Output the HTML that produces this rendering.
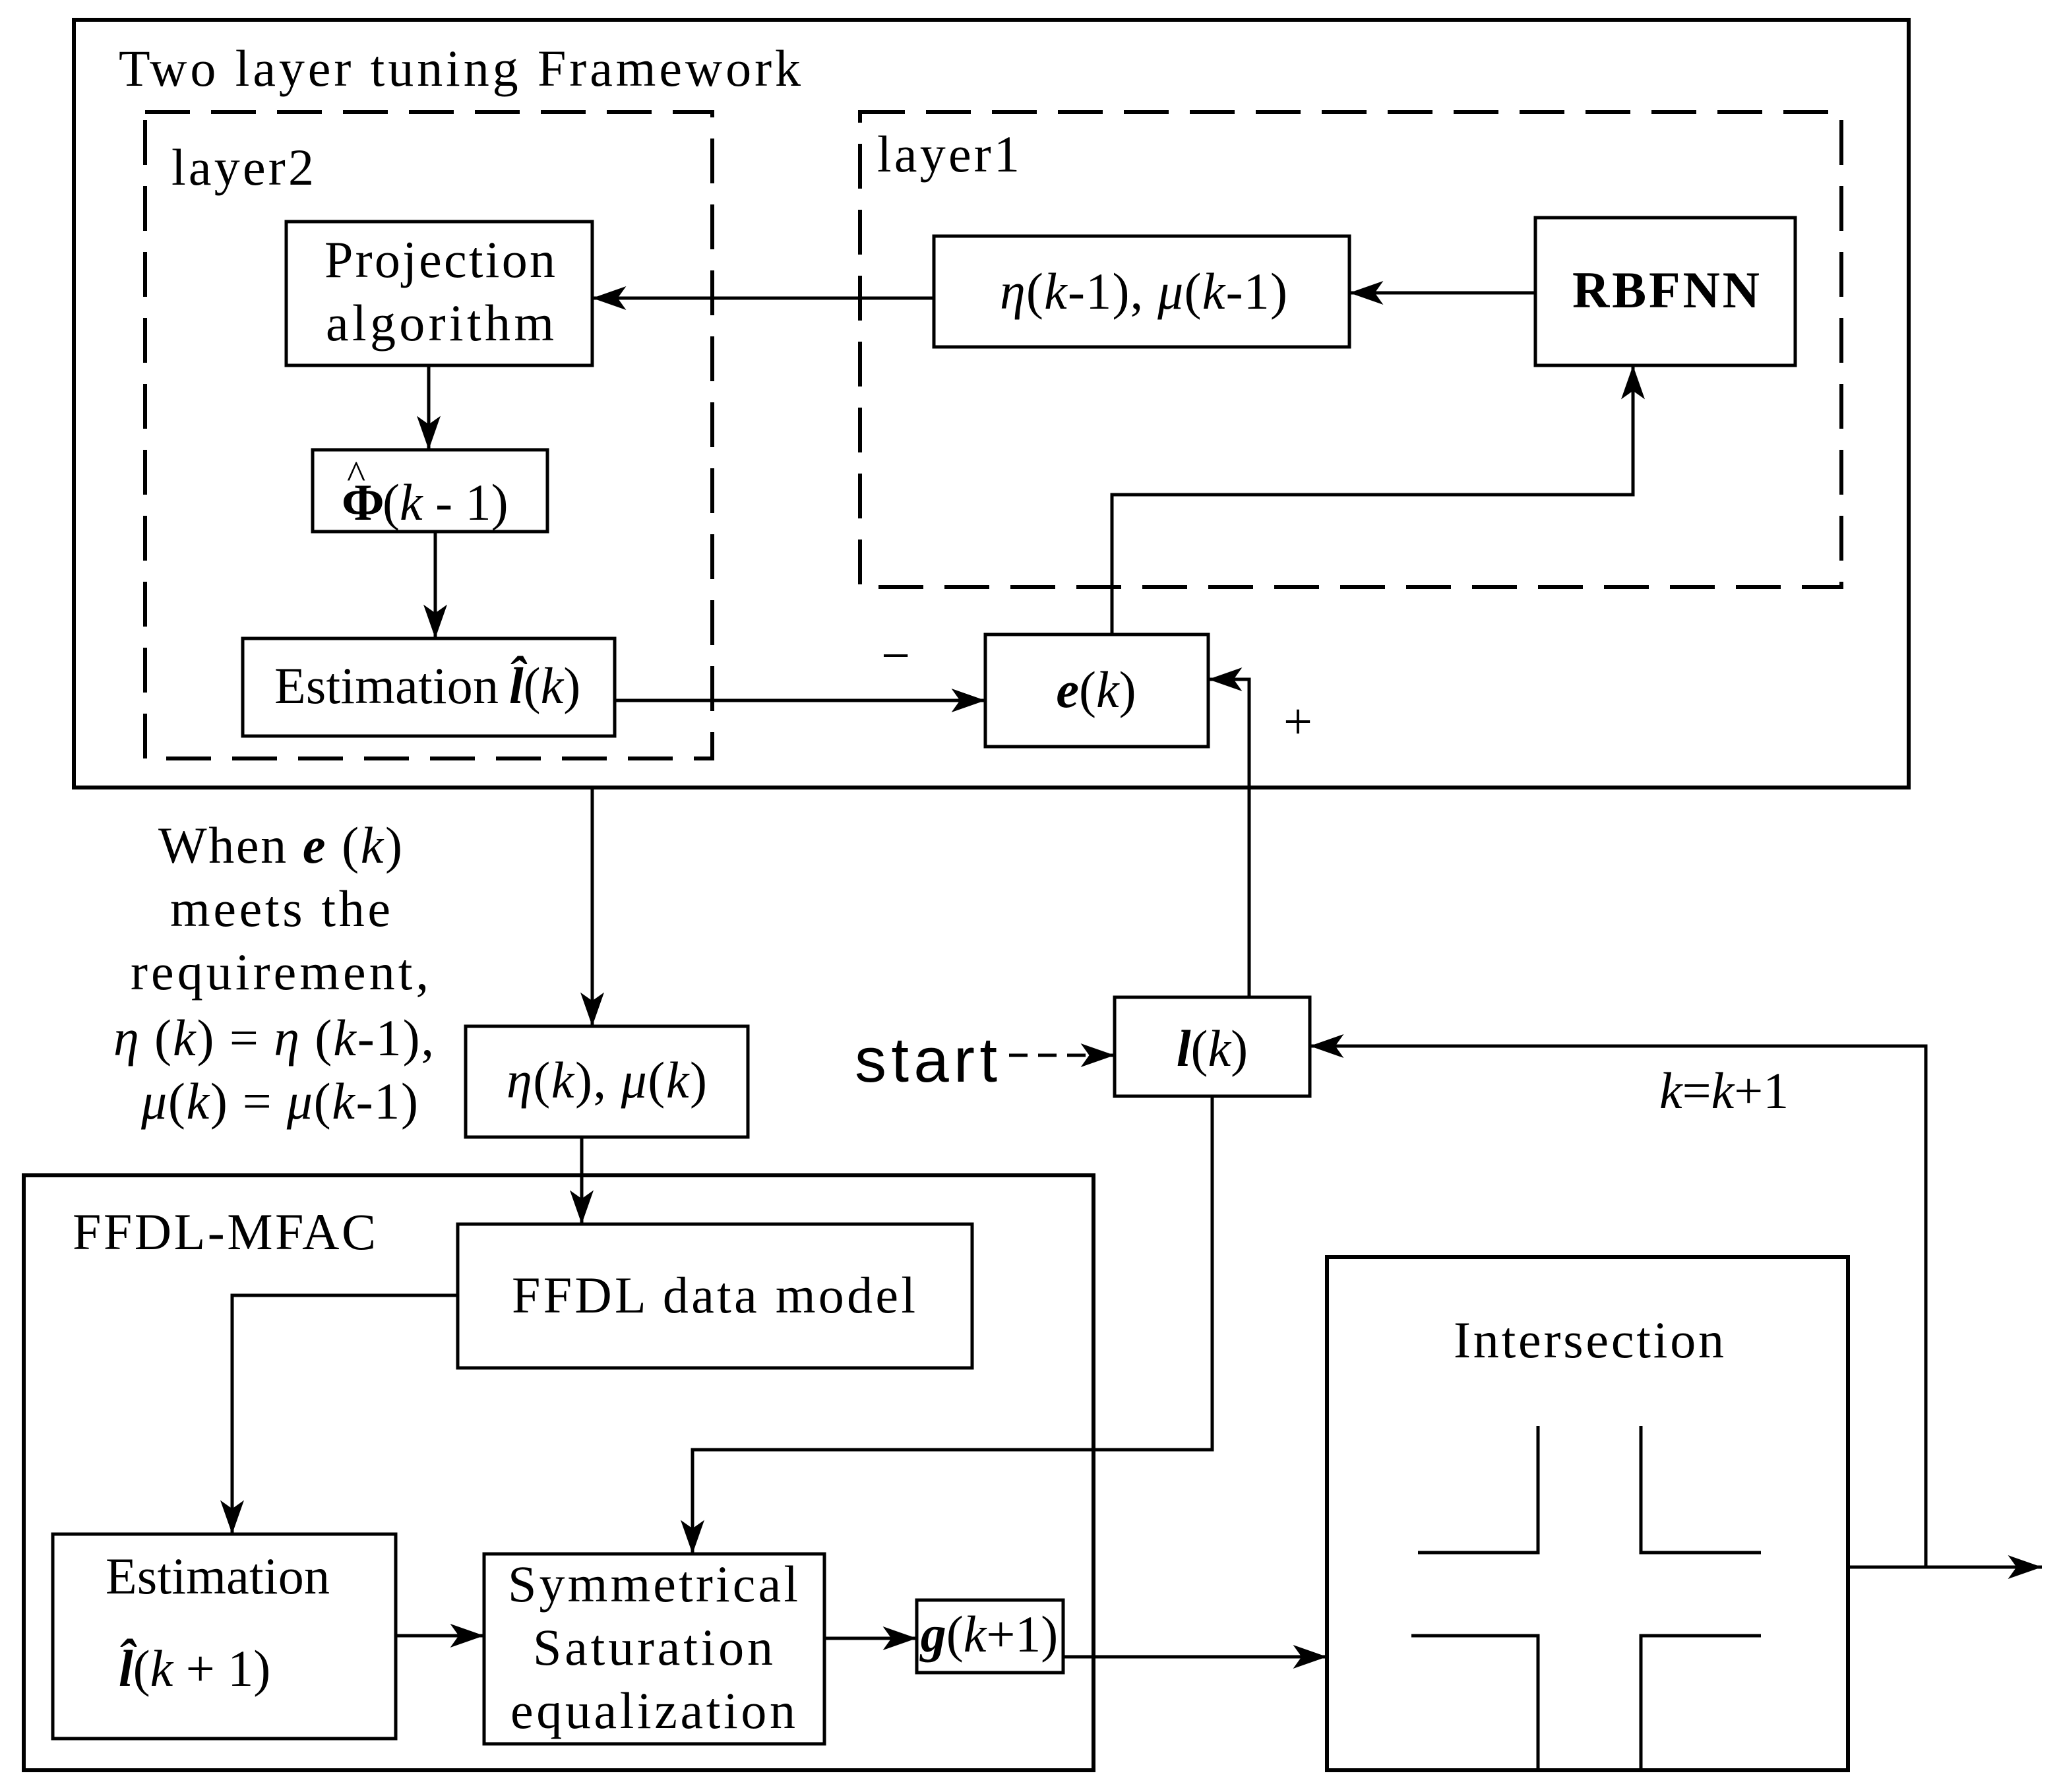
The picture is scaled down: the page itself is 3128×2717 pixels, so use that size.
<!DOCTYPE html>
<html><head><meta charset="utf-8"><style>html,body{margin:0;padding:0;background:#fff}svg{display:block}</style></head>
<body>
<svg width="3128" height="2717" viewBox="0 0 1564 1358.5" xmlns="http://www.w3.org/2000/svg" font-family="Liberation Serif, serif" fill="none" stroke="#000">
<defs>
<marker id="ah" viewBox="0 0 20 14" refX="20" refY="7" markerWidth="26" markerHeight="18" orient="auto" markerUnits="userSpaceOnUse"><path d="M0,0 L20,7 L0,14 L5,7 Z" fill="#000" stroke="none"/></marker></defs>
<g stroke-width="3">
<rect x="56" y="15" width="1391" height="582"/>
<rect x="18" y="891" width="811" height="451"/>
<rect x="1006" y="953" width="395" height="389"/>
</g>
<g stroke-width="3" stroke-dasharray="34,16">
<rect x="110" y="85" width="430" height="490"/>
<rect x="652" y="85" width="744" height="360"/>
</g>
<g stroke-width="2.5">
<rect x="217" y="168" width="232" height="109"/>
<rect x="237" y="341" width="178" height="62"/>
<rect x="184" y="484" width="282" height="74"/>
<rect x="708" y="179" width="315" height="84"/>
<rect x="1164" y="165" width="197" height="112"/>
<rect x="747" y="481" width="169" height="85"/>
<rect x="845" y="756" width="148" height="75"/>
<rect x="353" y="778" width="214" height="84"/>
<rect x="347" y="928" width="390" height="109"/>
<rect x="40" y="1163" width="260" height="155"/>
<rect x="367" y="1178" width="258" height="144"/>
<rect x="695" y="1213" width="111" height="55"/>
</g>
<g stroke-width="2.5" marker-end="url(#ah)">
<path d="M708,226 H449"/>
<path d="M1164,222 H1023"/>
<path d="M325,277 V341"/>
<path d="M330,403 V484"/>
<path d="M466,531 H747"/>
<path d="M843,481 V375 H1238 V277"/>
<path d="M947,756 V515 H916"/>
<path d="M449,597 V778"/>
<path d="M441,862 V928"/>
<path d="M347,982 H176 V1163"/>
<path d="M300,1240 H367"/>
<path d="M919,831 V1099 H525 V1178"/>
<path d="M625,1242 H695"/>
<path d="M806,1256 H1006"/>
<path d="M1401,1188 H1548"/>
<path d="M1460,1188 V793 H993"/>
<path d="M765,800 H845" stroke-dasharray="14,8"/>
</g>
<g stroke-width="2.5">
<path d="M1166,1081 V1177 H1075 M1244,1081 V1177 H1335 M1070,1240 H1166 V1342 M1335,1240 H1244 V1342"/>
</g>
<g fill="#000" stroke="none" font-size="39">
<text x="90" y="65" textLength="517" lengthAdjust="spacing">Two layer tuning Framework</text>
<text x="130" y="140" textLength="108">layer2</text>
<text x="665" y="130" textLength="108">layer1</text>
<text x="246" y="210" textLength="175">Projection</text>
<text x="247" y="258" textLength="173">algorithm</text>
<text x="259" y="394" font-weight="bold">Φ</text>
<text x="263" y="370" font-size="30">^</text>
<text x="290" y="394">(<tspan font-style="italic">k</tspan> - 1)</text>
<text x="208" y="533" textLength="170">Estimation</text>
<text x="386" y="533"><tspan font-weight="bold" font-style="italic">l̂</tspan>(<tspan font-style="italic">k</tspan>)</text>
<text x="758" y="234" textLength="218"><tspan font-style="italic">η</tspan>(<tspan font-style="italic">k</tspan>-1), <tspan font-style="italic">μ</tspan>(<tspan font-style="italic">k</tspan>-1)</text>
<text x="1192" y="233" font-weight="bold" textLength="142">RBFNN</text>
<text x="831" y="536" text-anchor="middle"><tspan font-weight="bold" font-style="italic">e</tspan>(<tspan font-style="italic">k</tspan>)</text>
<text x="668" y="510">−</text>
<text x="973" y="560">+</text>
<text x="919" y="808" text-anchor="middle"><tspan font-weight="bold" font-style="italic">l</tspan>(<tspan font-style="italic">k</tspan>)</text>
<text x="648" y="820" font-size="48" font-family="Liberation Sans, sans-serif" textLength="108">start</text>
<text x="1258" y="840"><tspan font-style="italic">k</tspan>=<tspan font-style="italic">k</tspan>+1</text>
<text x="120" y="654" textLength="185">When <tspan font-weight="bold" font-style="italic">e</tspan> (<tspan font-style="italic">k</tspan>)</text>
<text x="129" y="702" textLength="167">meets the</text>
<text x="99" y="750" textLength="226">requirement,</text>
<text x="86" y="800" textLength="243"><tspan font-style="italic">η</tspan> (<tspan font-style="italic">k</tspan>) = <tspan font-style="italic">η</tspan> (<tspan font-style="italic">k</tspan>-1),</text>
<text x="107" y="848" textLength="210"><tspan font-style="italic">μ</tspan>(<tspan font-style="italic">k</tspan>) = <tspan font-style="italic">μ</tspan>(<tspan font-style="italic">k</tspan>-1)</text>
<text x="384" y="832" textLength="152"><tspan font-style="italic">η</tspan>(<tspan font-style="italic">k</tspan>), <tspan font-style="italic">μ</tspan>(<tspan font-style="italic">k</tspan>)</text>
<text x="55" y="947" textLength="230">FFDL-MFAC</text>
<text x="388" y="995" textLength="306">FFDL data model</text>
<text x="80" y="1208" textLength="170">Estimation</text>
<text x="90" y="1278"><tspan font-weight="bold" font-style="italic">l̂</tspan>(<tspan font-style="italic">k</tspan> + 1)</text>
<text x="385" y="1214" textLength="220">Symmetrical</text>
<text x="404" y="1262" textLength="182">Saturation</text>
<text x="387" y="1310" textLength="216">equalization</text>
<text x="750" y="1252" text-anchor="middle"><tspan font-weight="bold" font-style="italic">g</tspan>(<tspan font-style="italic">k</tspan>+1)</text>
<text x="1102" y="1029" textLength="205">Intersection</text>
</g>
</svg>
</body></html>
